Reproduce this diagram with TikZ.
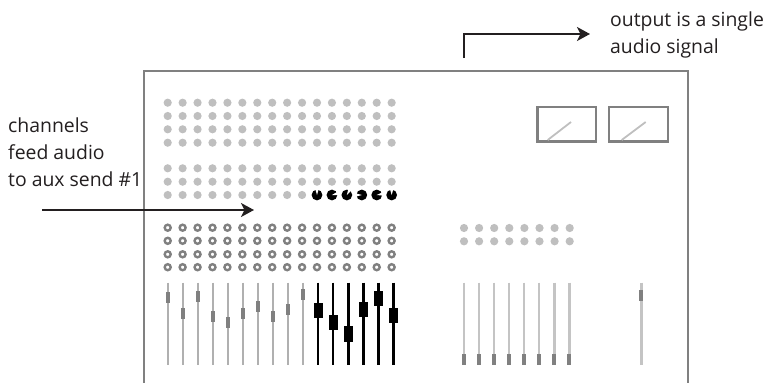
\documentclass[tikz,border=0pt]{standalone}
\usepackage{fontspec}
\setmainfont{Open Sans}
\usepackage{xcolor}
\definecolor{panelgray}{RGB}{128,128,128}
\definecolor{knobgray}{RGB}{191,191,191}
\definecolor{railgray}{RGB}{176,176,176}
\definecolor{raillight}{RGB}{196,196,196}
\definecolor{inkblack}{RGB}{35,31,32}
\usetikzlibrary{arrows.meta}
\tikzset{
  label/.style={anchor=base west, inner sep=0pt, text=inkblack, font=\fontsize{19.4}{27}\selectfont, align=left},
  signal/.style={draw=inkblack, line width=1.8pt, -{Stealth[length=13pt, width=14pt, inset=3.5pt]}},
  knob/.style={fill=knobgray},
  ring/.style={draw=panelgray, line width=2.4pt},
  rail/.style={draw=railgray, line width=2.4pt},
  handle/.style={fill=panelgray},
  meter/.style={draw=panelgray, line width=2.2pt}
}
\begin{document}
\begin{tikzpicture}[x=1pt, y=-1pt]
  \useasboundingbox (0,0) rectangle (769,383);

  % Console outline, open at the bottom
  \draw[draw=panelgray, line width=2.4pt] (144,383) -- (144,70.7) -- (687.7,70.7) -- (687.7,383);

  % Meters
  \draw[meter] (537.5,106.7) rectangle (596,141.5);
  \draw[meter] (609.2,106.7) rectangle (668,141.5);
  \draw[draw=knobgray, line width=1.8pt] (547.7,140) -- (571,122);
  \draw[draw=knobgray, line width=1.8pt] (621.7,140) -- (645.7,122);

  % Aux send knobs
  \foreach \col in {0,...,15} {
    \foreach \yy in {102.7,116,129.3,142.7} {
      \fill[knob] ({167.7+14.93*\col},\yy) circle (4.1);
    }
    \foreach \yy in {168.3,181.7} {
      \fill[knob] ({167.7+14.93*\col},\yy) circle (4.1);
    }
  }
  \foreach \col in {0,...,9} {
    \fill[knob] ({167.7+14.93*\col},195) circle (4.1);
  }

  % Active knobs of aux send #1
  \foreach \col/\ang in {10/-90,11/-15,12/-60,13/180,14/-10,15/-90} {
    \fill[black] ({167.7+14.93*\col},195) circle (5.4);
    \fill[white] ({167.7+14.93*\col},195) -- +({\ang-16}:6.5) -- +({\ang+16}:6.5) -- cycle;
  }

  % Ring knobs
  \foreach \col in {0,...,15} {
    \foreach \yy in {227.7,240.8,254.3,267.2} {
      \draw[ring] ({167.7+14.93*\col},\yy) circle (3);
    }
  }

  % Channel faders
  \foreach \col/\pos in {0/297.3,1/313.3,2/296.3,3/316.3,4/322.3,5/313.3,6/306.3,7/316.3,8/309.3,9/294.3} {
    \draw[rail] ({167.7+15.05*\col},282.7) -- ({167.7+15.05*\col},364.5);
    \fill[handle] ({167.7+15.05*\col-2.1},\pos-5.5) rectangle ({167.7+15.05*\col+2.1},\pos+5.5);
  }
  \foreach \col/\pos in {10/310.7,11/322.7,12/334,13/309.7,14/298.3,15/315.3} {
    \draw[draw=black, line width=2.4pt] ({167.7+15.05*\col},282.7) -- ({167.7+15.05*\col},364.5);
    \fill[black] ({167.7+15.05*\col-4.5},\pos-7.7) rectangle ({167.7+15.05*\col+4.5},\pos+7.7);
  }

  % Right hand group
  \foreach \col in {0,...,7} {
    \fill[knob] ({464+15.1*\col},228) circle (4.1);
    \fill[knob] ({464+15.1*\col},241.3) circle (4.1);
    \draw[draw=raillight, line width=2.4pt] ({464+15.05*\col},282.7) -- ({464+15.05*\col},364.5);
    \fill[handle] ({464+15.05*\col-2.1},354) rectangle ({464+15.05*\col+2.1},365);
  }

  % Master fader
  \draw[draw=raillight, line width=2.4pt] (641.3,282.7) -- (641.3,364.5);
  \fill[handle] (639.2,290) rectangle (643.4,301);

  % Labels
  \node[label] (sendlabel) at (8,186) {channels\\feed audio\\to aux send \#1};
  \node[label] (outlabel) at (610,53) {output is a single\\audio signal};

  % Signal arrows
  \coordinate (sendstart) at (42,210);
  \coordinate (sendend) at (254,210);
  \coordinate (outstart) at (464,58);
  \coordinate (outend) at (590,34);
  \draw[signal] (sendstart) -- (sendend);
  \draw[signal] (outstart) |- (outend);
\end{tikzpicture}
\end{document}
